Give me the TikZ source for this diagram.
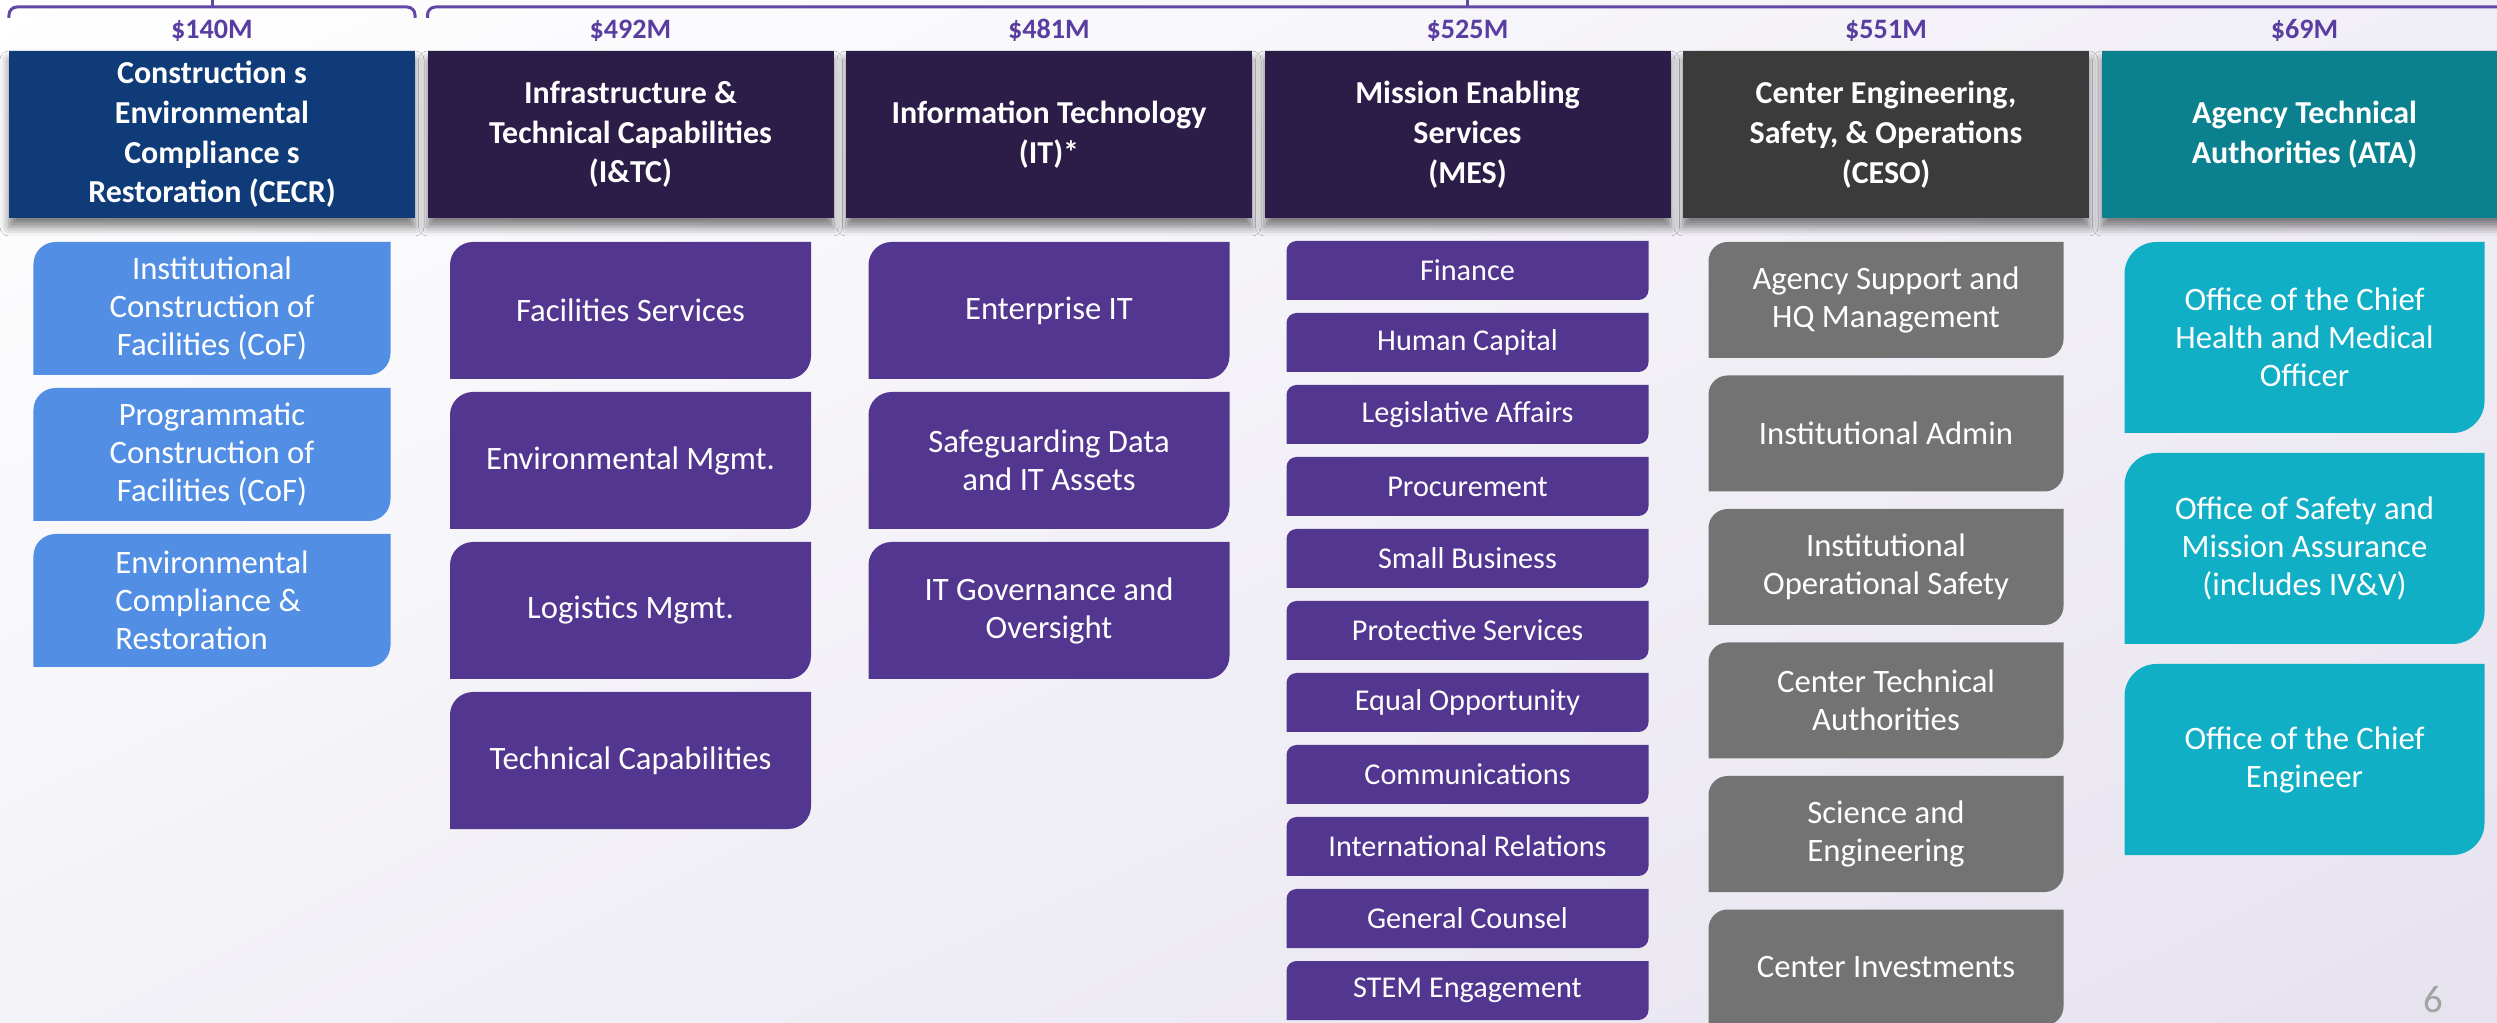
\documentclass[tikz,border=0pt]{standalone}
\usepackage{fontspec}
\setmainfont{Carlito}
\usepackage{xcolor}
\definecolor{cecrhead}{HTML}{103B79}
\definecolor{purphead}{HTML}{2C1C48}
\definecolor{cesohead}{HTML}{3B3B3B}
\definecolor{atahead}{HTML}{0B8190}
\definecolor{cecrsub}{HTML}{528FE4}
\definecolor{purpsub}{HTML}{52368F}
\definecolor{cesosub}{HTML}{737373}
\definecolor{atasub}{HTML}{10AFC6}
\definecolor{amount}{HTML}{5A3DA0}
\definecolor{bracket}{HTML}{6248A6}
\definecolor{bgright}{HTML}{F1EFF6}
\definecolor{bgbottom}{HTML}{F3F2F7}
\definecolor{bgcorner}{HTML}{E6E2EF}
\definecolor{pagenum}{HTML}{A3A3A3}
\usetikzlibrary{positioning,shadings,shadows.blur}

\begin{document}
\begin{tikzpicture}[
  x=1mm, y=-1mm, outer sep=0pt,
  font=\fontsize{9.3}{10.8}\selectfont,
  head/.style={fill=#1, text=white, font=\bfseries\fontsize{9.1}{11.3}\selectfont,
    minimum width=40.6mm, minimum height=16.7mm, align=center, inner sep=0pt,
    blur shadow={shadow xshift=0mm, shadow yshift=-0.9mm, shadow blur radius=0.9mm, shadow opacity=50}},
  amt/.style={text=amount, font=\bfseries\fontsize{8}{9}\selectfont, inner sep=0pt},
  tab/.style 2 args={text=white, align=center, inner sep=0pt,
    path picture={\fill[#1] (path picture bounding box.south west)
      -- ([yshift=-#2]path picture bounding box.north west)
      arc[start angle=180, end angle=90, radius=#2]
      -- (path picture bounding box.north east)
      -- ([yshift=#2]path picture bounding box.south east)
      arc[start angle=0, end angle=-90, radius=#2] -- cycle;}},
  cofbox/.style={tab={cecrsub}{2.2mm}, minimum width=35.7mm, minimum height=13.3mm},
  itcbox/.style={tab={purpsub}{2.3mm}, minimum width=36.1mm, minimum height=13.7mm},
  mesbox/.style={tab={purpsub}{1mm}, minimum width=36.2mm, minimum height=5.9mm,
    font=\fontsize{8.6}{9.6}\selectfont},
  cesobox/.style={tab={cesosub}{1.9mm}, minimum width=35.5mm, minimum height=11.6mm},
  atabox/.style={tab={atasub}{3.2mm}, minimum width=36mm, minimum height=19.1mm},
  brace/.style={draw=bracket, line width=0.3mm, rounded corners=0.8mm}
]
% page
\shade[upper left=white, upper right=bgright, lower left=bgbottom, lower right=bgcorner]
  (0,0) rectangle (249.7,102.3);
\useasboundingbox (0,0) rectangle (249.7,102.3);

% headers
\node[head=cecrhead] (cecr) at (21.2,13.45) {Construction s\\Environmental\\Compliance s\\Restoration (CECR)};
\node[head=purphead, right=1.25mm of cecr] (itc) {Infrastructure \&\\Technical Capabilities\\(I\&TC)};
\node[head=purphead, right=1.25mm of itc] (itt) {Information Technology\\(IT)*};
\node[head=purphead, right=1.25mm of itt] (mes) {Mission Enabling\\Services\\(MES)};
\node[head=cesohead, right=1.25mm of mes] (ceso) {Center Engineering,\\Safety, \& Operations\\(CESO)};
\node[head=atahead, right=1.25mm of ceso] (ata) {Agency Technical\\Authorities (ATA)};

% amounts
\node[amt, above=0.9mm of cecr] (amtcecr) {\$140M};
\node[amt, above=0.9mm of itc] (amtitc) {\$492M};
\node[amt, above=0.9mm of itt] (amtitt) {\$481M};
\node[amt, above=0.9mm of mes] (amtmes) {\$525M};
\node[amt, above=0.9mm of ceso] (amtceso) {\$551M};
\node[amt, above=0.9mm of ata] (amtata) {\$69M};

% brackets
\draw[brace] ([yshift=3.3mm]cecr.north west) |- ([yshift=4.4mm]cecr.north) -| ([yshift=3.3mm]cecr.north east);
\draw[brace] ([yshift=4.4mm]cecr.north) -- ([yshift=5.6mm]cecr.north);
\draw[brace] ([yshift=3.3mm]itc.north west) |- ([yshift=4.4mm]mes.north) -| ([yshift=3.3mm]ata.north east);
\draw[brace] ([yshift=4.4mm]mes.north) -- ([yshift=5.6mm]mes.north);

% CECR
\node[cofbox, below=2.4mm of cecr] (icof) {Institutional\\Construction of\\Facilities (CoF)};
\node[cofbox, below=1.3mm of icof] (pcof) {Programmatic\\Construction of\\Facilities (CoF)};
\node[cofbox, below=1.3mm of pcof, align=left] (ecr) {Environmental\\Compliance \&\\Restoration};

% I&TC
\node[itcbox, below=2.4mm of itc] (facsvc) {Facilities Services};
\node[itcbox, below=1.3mm of facsvc] (envmgt) {Environmental Mgmt.};
\node[itcbox, below=1.3mm of envmgt] (logmgt) {Logistics Mgmt.};
\node[itcbox, below=1.3mm of logmgt] (techcap) {Technical Capabilities};

% IT
\node[itcbox, below=2.4mm of itt] (entit) {Enterprise IT};
\node[itcbox, below=1.3mm of entit] (safedata) {Safeguarding Data\\and IT Assets};
\node[itcbox, below=1.3mm of safedata] (itgov) {IT Governance and\\Oversight};

% MES
\node[mesbox, below=2.3mm of mes] (fin) {Finance};
\node[mesbox, below=1.3mm of fin] (hum) {Human Capital};
\node[mesbox, below=1.3mm of hum] (leg) {Legislative Affairs};
\node[mesbox, below=1.3mm of leg] (proc) {Procurement};
\node[mesbox, below=1.3mm of proc] (smb) {Small Business};
\node[mesbox, below=1.3mm of smb] (prot) {Protective Services};
\node[mesbox, below=1.3mm of prot] (eeo) {Equal Opportunity};
\node[mesbox, below=1.3mm of eeo] (comm) {Communications};
\node[mesbox, below=1.3mm of comm] (intl) {International Relations};
\node[mesbox, below=1.3mm of intl] (gc) {General Counsel};
\node[mesbox, below=1.3mm of gc] (stem) {STEM Engagement};

% CESO
\node[cesobox, below=2.4mm of ceso] (agsup) {Agency Support and\\HQ Management};
\node[cesobox, below=1.75mm of agsup] (instadm) {Institutional Admin};
\node[cesobox, below=1.75mm of instadm] (instsaf) {Institutional\\Operational Safety};
\node[cesobox, below=1.75mm of instsaf] (ctecha) {Center Technical\\Authorities};
\node[cesobox, below=1.75mm of ctecha] (scieng) {Science and\\Engineering};
\node[cesobox, below=1.75mm of scieng] (ctrinv) {Center Investments};

% ATA
\node[atabox, below=2.4mm of ata] (ochmo) {Office of the Chief\\Health and Medical\\Officer};
\node[atabox, below=2mm of ochmo] (osma) {Office of Safety and\\Mission Assurance\\(includes IV\&V)};
\node[atabox, below=2mm of osma] (oce) {Office of the Chief\\Engineer};

\node[text=pagenum, font=\fontsize{11}{12}\selectfont] (pnum) at (243.3,100) {6};
\end{tikzpicture}
\end{document}
